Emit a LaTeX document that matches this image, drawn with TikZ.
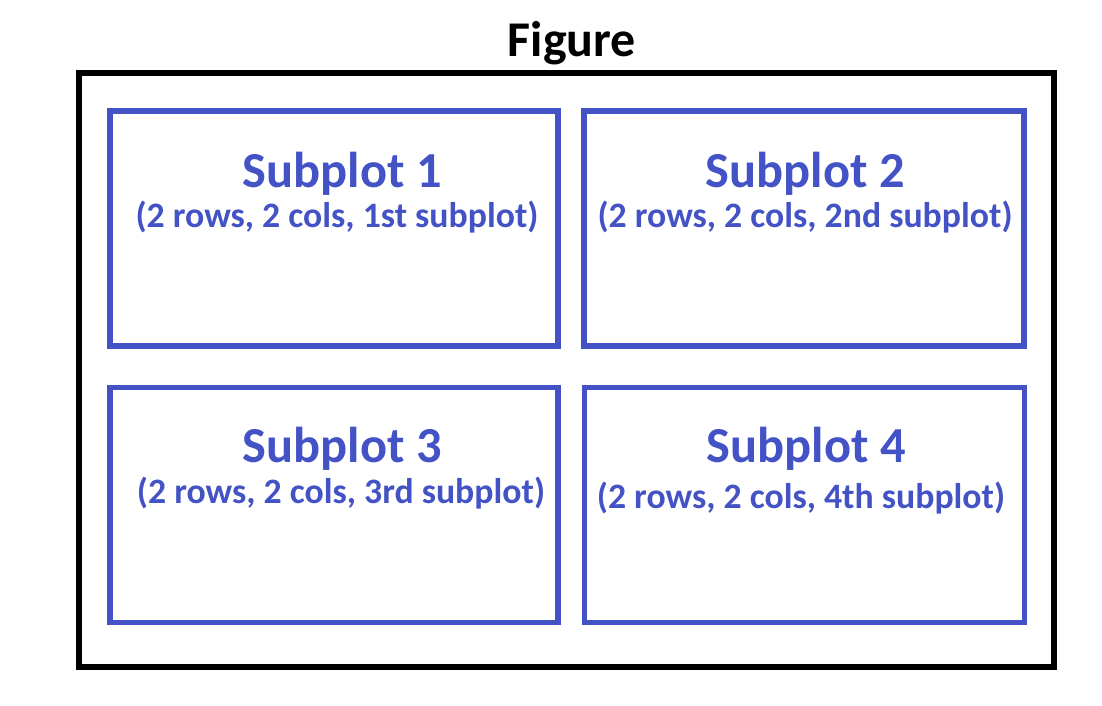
\documentclass[tikz,border=0pt]{standalone}
\usepackage{fontspec}
\setmainfont{Carlito}
\usepackage{tikz}
\usetikzlibrary{positioning}
\definecolor{subblue}{HTML}{4352C5}

\begin{document}
\begin{tikzpicture}[
  x=0.75pt, y=-0.75pt,
  frame/.style={draw=black, line width=4.5pt, minimum width=975*0.75pt, minimum height=594*0.75pt, inner sep=0pt},
  subbox/.style={draw=subblue, line width=3.8pt, minimum height=235*0.75pt, inner sep=0pt},
  head/.style={anchor=base, text=subblue, font=\fontsize{37.8}{40}\selectfont\bfseries},
  info/.style={anchor=base, text=subblue, font=\fontsize{26.8}{29}\selectfont\bfseries}
]
  \useasboundingbox (0,0) rectangle (1102,706);

  \node[frame] (fig) at (566.5,370) {};
  \node[anchor=base, font=\fontsize{37.5}{40}\selectfont\bfseries] (title) at (572,57) {Figure};

  % the four subplots
  \node[subbox, minimum width=448*0.75pt] (sub1) at (334,228.5) {};
  \node[subbox, minimum width=440*0.75pt] (sub2) at (804,228.5) {};
  \node[subbox, minimum width=448*0.75pt] (sub3) at (334,505) {};
  \node[subbox, minimum width=440*0.75pt] (sub4) at (804.5,505) {};

  \node[head] (head1) at (342,187) {Subplot 1};
  \node[info] (info1) at (337,227) {(2 rows, 2 cols, 1st subplot)};
  \node[head] (head2) at (805,187) {Subplot 2};
  \node[info] (info2) at (805,227) {(2 rows, 2 cols, 2nd subplot)};
  \node[head] (head3) at (342,462) {Subplot 3};
  \node[info] (info3) at (341,503) {(2 rows, 2 cols, 3rd subplot)};
  \node[head] (head4) at (806,462) {Subplot 4};
  \node[info] (info4) at (801,508) {(2 rows, 2 cols, 4th subplot)};
\end{tikzpicture}
\end{document}
